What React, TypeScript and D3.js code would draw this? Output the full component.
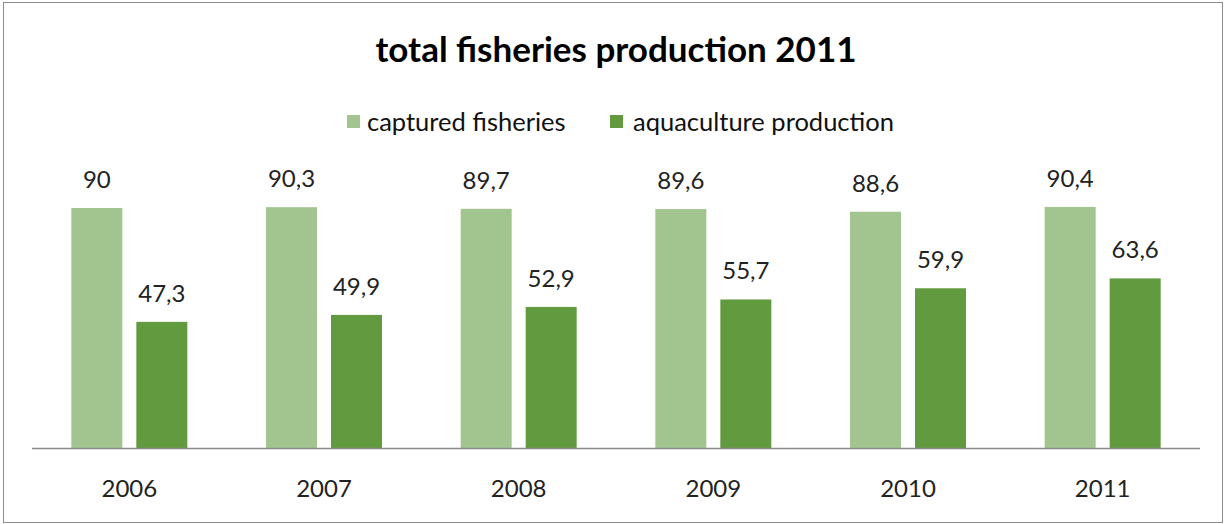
import React from "react";
import * as d3 from "d3";

const years = ["2006", "2007", "2008", "2009", "2010", "2011"];
const captured = [90, 90.3, 89.7, 89.6, 88.6, 90.4];
const aquaculture = [47.3, 49.9, 52.9, 55.7, 59.9, 63.6];
const seriesNames = ["captured fisheries", "aquaculture production"];
const colors = ["#A2C48F", "#629A3F"];

const W = 1228;
const H = 524;
const left = 32;
const right = 1200;
const baseline = 448;
const FONT = "Lato, 'Open Sans', sans-serif";

export default function App() {
  const x = d3.scaleBand<string>().domain(years).range([left, right]).paddingInner(0).paddingOuter(0);
  const y = d3.scaleLinear().domain([0, 100]).range([baseline, baseline - 266.67]);
  const bw = x.bandwidth();
  const barW = 51;
  const gap = 14;
  const offset0 = (bw - (2 * barW + gap)) / 2;
  const fmt = (v: number) => String(v).replace(".", ",");
  const series = [captured, aquaculture];

  return (
    <svg width={W} height={H} style={{ position: "absolute", left: 0, top: 0, background: "#fff" }}>
      <rect x={3.5} y={2.5} width={1219} height={520} fill="#fff" stroke="#8c8c8c" strokeWidth={1} />
      <text x={616} y={62} textAnchor="middle" fontFamily={FONT} fontWeight={700} fontSize={35} fill="#000">
        total fisheries production 2011
      </text>
      {/* legend */}
      <g fontFamily={FONT} fontSize={25.5} fill="#111">
        <rect x={347} y={115} width={13} height={13} fill={colors[0]} />
        <text x={367} y={131}>{seriesNames[0]}</text>
        <rect x={610} y={115} width={13} height={13} fill={colors[1]} />
        <text x={633} y={131}>{seriesNames[1]}</text>
      </g>
      {series.map((vals, si) => (
        <g key={si}>
          {vals.map((v, i) => {
            const bx = (x(years[i]) as number) + offset0 + si * (barW + gap);
            return (
              <g key={i}>
                <rect x={bx} y={y(v)} width={barW} height={baseline - y(v)} fill={colors[si]} />
                <text x={bx + barW / 2} y={y(v) - 20} textAnchor="middle" fontFamily={FONT} fontSize={24} fill="#222">
                  {fmt(v)}
                </text>
              </g>
            );
          })}
        </g>
      ))}
      <line x1={left} x2={right} y1={baseline + 0.5} y2={baseline + 0.5} stroke="#8a8a8a" strokeWidth={1.5} />
      {years.map((yr) => (
        <text key={yr} x={(x(yr) as number) + bw / 2} y={497} textAnchor="middle" fontFamily={FONT} fontSize={24} fill="#222">
          {yr}
        </text>
      ))}
    </svg>
  );
}
